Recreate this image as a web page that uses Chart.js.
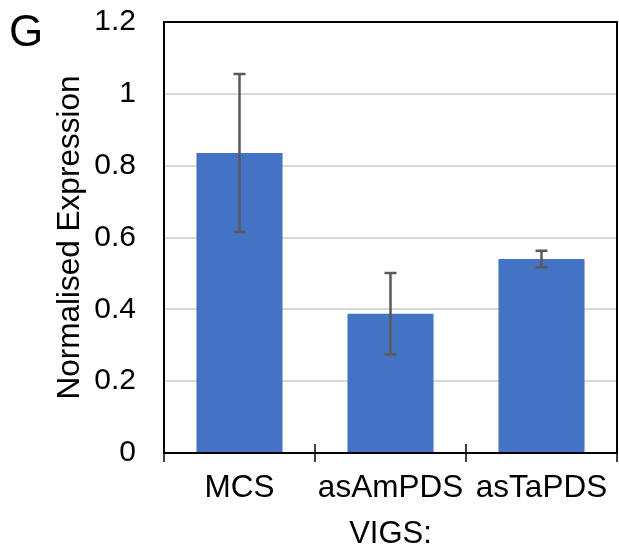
<!DOCTYPE html>
<html>
<head>
<meta charset="utf-8">
<script src="https://cdn.jsdelivr.net/npm/chart.js@4.4.0/dist/chart.umd.min.js"></script>
<style>
  html, body { margin: 0; padding: 0; background: #fff; }
  #wrap { width: 619px; height: 553px; }
</style>
</head>
<body>
<div id="wrap"><canvas id="chart" width="619" height="553"></canvas></div>
<script>
const categories = ['MCS', 'asAmPDS', 'asTaPDS'];
const expression = [0.835, 0.388, 0.540];
const errors = [0.220, 0.113, 0.023];
const yTicks = [0, 0.2, 0.4, 0.6, 0.8, 1, 1.2];

const FONT = 'Liberation Sans, Arial, sans-serif';

// error bars, frame and panel letter
const extras = {
    id: 'extras',
    afterDatasetsDraw(chart) {
        const ctx = chart.ctx;
        const y = chart.scales.y;
        const x = chart.scales.x;
        const meta = chart.getDatasetMeta(0);
        ctx.save();
        ctx.strokeStyle = '#595959';
        ctx.lineWidth = 2.5;
        meta.data.forEach((bar, i) => {
            const top = y.getPixelForValue(expression[i] + errors[i]);
            const bot = y.getPixelForValue(expression[i] - errors[i]);
            ctx.beginPath();
            ctx.moveTo(bar.x, top);
            ctx.lineTo(bar.x, bot);
            ctx.moveTo(bar.x - 6, top);
            ctx.lineTo(bar.x + 6, top);
            ctx.moveTo(bar.x - 6, bot);
            ctx.lineTo(bar.x + 6, bot);
            ctx.stroke();
        });

        const a = chart.chartArea;
        ctx.strokeStyle = '#000';
        ctx.lineWidth = 2;
        ctx.strokeRect(a.left, a.top, a.right - a.left, a.bottom - a.top);
        ctx.lineWidth = 1.5;
        for (let i = 0; i <= categories.length; i++) {
            const px = x.getPixelForValue(i - 0.5);
            ctx.beginPath();
            ctx.moveTo(px, a.bottom - 9);
            ctx.lineTo(px, a.bottom + 9);
            ctx.stroke();
        }

        ctx.fillStyle = '#000';
        ctx.font = '44px ' + FONT;
        ctx.textBaseline = 'alphabetic';
        ctx.textAlign = 'left';
        ctx.fillText('G', 9, 46);
        ctx.restore();
    }
};

new Chart(document.getElementById('chart').getContext('2d'), {
    type: 'bar',
    data: {
        labels: categories,
        datasets: [{
            data: expression,
            backgroundColor: '#4472C4',
            borderWidth: 0,
            categoryPercentage: 0.57,
            barPercentage: 1.0
        }]
    },
    options: {
        responsive: false,
        animation: false,
        layout: { padding: { top: 0, right: 2, bottom: 0, left: 0 } },
        plugins: {
            legend: { display: false },
            tooltip: { enabled: false }
        },
        scales: {
            x: {
                afterFit: (scale) => {
                    scale.height = 100;
                    scale.paddingLeft = 0;
                    scale.paddingRight = 0;
                },
                grid: { display: false },
                border: { display: false },
                ticks: {
                    color: '#000',
                    font: { family: FONT, size: 31.5 },
                    padding: 8,
                    maxRotation: 0,
                    autoSkip: false
                },
                title: {
                    display: true,
                    text: 'VIGS:',
                    color: '#000',
                    font: { family: FONT, size: 31 },
                    padding: { top: 0, bottom: 0 }
                }
            },
            y: {
                min: 0,
                max: 1.2,
                afterFit: (scale) => {
                    scale.width = 164;
                    scale.paddingTop = 22;
                    scale.paddingBottom = 0;
                },
                afterBuildTicks: (scale) => { scale.ticks = yTicks.map(v => ({ value: v })); },
                grid: { color: '#d9d9d9', lineWidth: 2, drawTicks: false },
                border: { display: false },
                ticks: {
                    color: '#000',
                    font: { family: FONT, size: 30 },
                    padding: 28,
                    callback: (v) => String(Math.round(v * 10) / 10)
                },
                title: {
                    display: true,
                    text: 'Normalised Expression',
                    color: '#000',
                    font: { family: FONT, size: 31.5 },
                    padding: { top: 51, bottom: 0 }
                }
            }
        }
    },
    plugins: [extras]
});
</script>
</body>
</html>
